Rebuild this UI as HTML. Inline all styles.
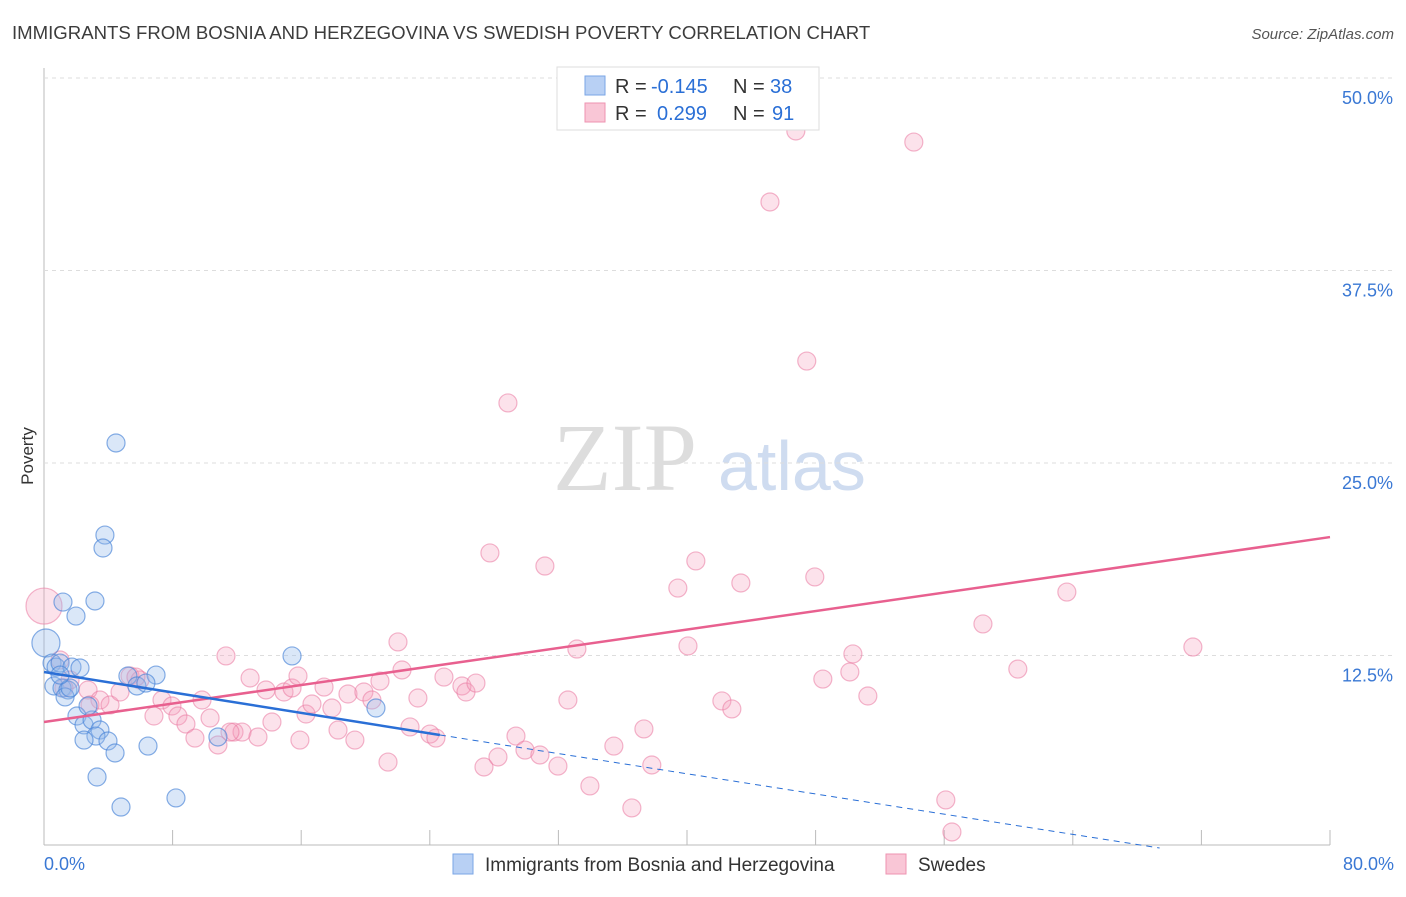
<!DOCTYPE html>
<html><head><meta charset="utf-8"><style>
body{margin:0;background:#fff;font-family:"Liberation Sans",sans-serif}
svg text{font-family:"Liberation Sans",sans-serif}
</style></head><body>
<svg id="chart" width="1406" height="892" xmlns="http://www.w3.org/2000/svg">
<text x="12" y="39" font-size="18.6" fill="#3c3c3c">IMMIGRANTS FROM BOSNIA AND HERZEGOVINA VS SWEDISH POVERTY CORRELATION CHART</text>
<text x="1394" y="39" font-size="15" font-style="italic" fill="#555" text-anchor="end">Source: ZipAtlas.com</text>
<text x="553" y="490" font-size="96" fill="#ddd" style="font-family:'Liberation Serif',serif">ZIP</text>
<text x="718" y="490" font-size="70" fill="#cfdcf0">atlas</text>
<text transform="translate(33,456) rotate(-90)" font-size="17" fill="#333" text-anchor="middle">Poverty</text>
<g id="grid"></g><g id="pts"></g><g id="lines"></g>
<g>
<rect x="557" y="67" width="262" height="63" fill="#fff" stroke="#ddd"/>
<rect x="585" y="76" width="20" height="19" fill="#b8d0f4" stroke="#7aa6e6"/>
<rect x="585" y="103" width="20" height="19" fill="#f9c6d6" stroke="#ee93b0"/>
<text x="615" y="93" font-size="20" fill="#333">R =</text>
<text x="651" y="93" font-size="20" fill="#2a6fd6">-0.145</text>
<text x="733" y="93" font-size="20" fill="#333">N =</text>
<text x="770" y="93" font-size="20" fill="#2a6fd6">38</text>
<text x="615" y="120" font-size="20" fill="#333">R =</text>
<text x="657" y="120" font-size="20" fill="#2a6fd6">0.299</text>
<text x="733" y="120" font-size="20" fill="#333">N =</text>
<text x="772" y="120" font-size="20" fill="#2a6fd6">91</text>
</g>
<g>
<rect x="453" y="854" width="20" height="20" fill="#b8d0f4" stroke="#7aa6e6"/>
<text x="485" y="871" font-size="19" fill="#333">Immigrants from Bosnia and Herzegovina</text>
<rect x="886" y="854" width="20" height="20" fill="#f9c6d6" stroke="#ee93b0"/>
<text x="918" y="871" font-size="19" fill="#333">Swedes</text>
</g>
</svg>
<script>
const yTicks=[12.5,25,37.5,50];
const yTickLabels=["12.5%","25.0%","37.5%","50.0%"];
const xTicks=[0,8,16,24,32,40,48,56,64,72,80];
const blueX=[0.12,0.50,0.75,1.00,1.74,2.24,0.62,1.12,1.49,1.31,2.05,2.49,2.99,2.74,3.48,3.23,2.49,3.98,4.42,3.30,4.79,6.47,8.21,10.82,5.22,6.97,5.78,6.34,15.43,20.65,4.48,3.79,3.67,3.17,1.18,1.99,1.62,1.00];
const blueY=[13.31,12.01,11.75,12.01,11.75,11.69,10.52,10.39,10.26,9.81,8.57,7.99,8.31,9.22,7.66,7.27,7.01,6.95,6.17,4.61,2.66,6.62,3.25,7.21,11.17,11.23,10.52,10.71,12.47,9.09,26.30,20.32,19.48,16.04,15.97,15.06,10.39,11.23];
const pinkX=[0.00,1.00,1.62,2.74,3.48,4.11,4.73,5.35,5.97,6.84,7.34,7.96,8.33,8.83,9.39,9.83,10.33,10.82,11.32,11.82,12.32,12.82,13.31,13.81,14.18,14.93,15.43,15.80,16.30,16.67,17.42,17.91,18.29,18.91,19.34,19.90,20.40,20.90,21.40,22.02,22.27,22.77,23.26,24.01,24.38,24.88,26.00,26.25,26.87,27.37,27.74,28.24,28.86,29.36,29.92,30.85,31.16,31.97,32.59,33.15,33.96,35.45,36.57,37.32,37.81,39.43,40.06,40.55,42.17,42.79,43.35,45.16,46.77,47.45,47.95,48.45,50.13,50.32,51.25,54.11,56.10,56.48,58.41,60.58,63.63,71.47,1.24,2.86,5.72,11.57,15.92];
const pinkY=[15.71,12.21,10.91,10.26,9.61,9.29,10.13,11.17,10.91,8.57,9.61,9.22,8.57,8.05,7.14,9.61,8.44,6.69,12.47,7.53,7.53,11.04,7.21,10.26,8.18,10.13,10.39,11.17,8.70,9.35,10.45,9.09,7.66,10.00,7.01,10.13,9.61,10.84,5.58,13.38,11.56,7.86,9.74,7.40,7.14,11.10,10.52,10.13,10.71,5.26,19.16,5.91,28.90,7.27,6.36,6.04,18.31,5.32,9.61,12.92,4.03,6.62,2.60,7.73,5.39,16.88,13.12,18.64,9.55,9.03,17.21,41.95,46.56,31.62,17.60,10.97,11.43,12.60,9.87,45.84,3.12,1.04,14.55,11.62,16.62,13.05,10.39,9.29,11.10,7.53,7.01];
const blueTrend=[[0,11.43],[24.63,7.34],[69.4,0]];
const pinkTrend=[[0,8.18],[80,20.19]];
const X=v=>44+v/80*1286, Y=v=>848-v/50*770;
const NS="http://www.w3.org/2000/svg";
function mk(t,a,p){const e=document.createElementNS(NS,t);for(const k in a)e.setAttribute(k,a[k]);p.appendChild(e);return e;}
const grid=document.getElementById('grid');
let e=mk('line',{x1:44,y1:68,x2:44,y2:845,stroke:'#bbb'},grid);


e=mk('line',{x1:44,y1:845,x2:1330,y2:845,stroke:'#bbb'},grid);


yTicks.forEach((t,i)=>{
 e=mk('line',{x1:44,y1:Y(t),x2:1394,y2:Y(t),stroke:'#ddd','stroke-dasharray':'4,4'},grid);
 
 
 e=mk('text',{x:1393,y:Y(t)+26,'font-size':18,fill:'#3a78d4','text-anchor':'end'},grid);
 e.textContent=yTickLabels[i];
 
 
});
xTicks.forEach(t=>{
 e=mk('line',{x1:X(t),y1:830,x2:X(t),y2:845,stroke:'#bbb'},grid);
 
 
});
e=mk('text',{x:44,y:870,'font-size':18,fill:'#3a78d4'},grid);e.textContent='0.0%';


e=mk('text',{x:1394,y:870,'font-size':18,fill:'#3a78d4','text-anchor':'end'},grid);e.textContent='80.0%';


const pts=document.getElementById('pts');
pinkX.forEach((x,i)=>{
 e=mk('circle',{cx:X(x),cy:Y(pinkY[i]),r:i==0?18:9,fill:'rgba(244,160,188,0.3)',stroke:'rgba(234,120,160,0.55)','stroke-width':1.2},pts);
 
 
});
blueX.forEach((x,i)=>{
 e=mk('circle',{cx:X(x),cy:Y(blueY[i]),r:i==0?14:9,fill:'rgba(150,185,235,0.35)',stroke:'rgba(70,130,215,0.65)','stroke-width':1.2},pts);
 
 
});
const L=document.getElementById('lines');
e=mk('line',{x1:X(pinkTrend[0][0]),y1:Y(pinkTrend[0][1]),x2:X(pinkTrend[1][0]),y2:Y(pinkTrend[1][1]),stroke:'#e8608f','stroke-width':2.5},L);


e=mk('line',{x1:X(blueTrend[0][0]),y1:Y(blueTrend[0][1]),x2:X(blueTrend[1][0]),y2:Y(blueTrend[1][1]),stroke:'#2a6fd6','stroke-width':2.5},L);


e=mk('line',{x1:X(blueTrend[1][0]),y1:Y(blueTrend[1][1]),x2:X(blueTrend[2][0]),y2:Y(blueTrend[2][1]),stroke:'#2a6fd6','stroke-width':1,'stroke-dasharray':'6,5'},L);


</script>
</body></html>
